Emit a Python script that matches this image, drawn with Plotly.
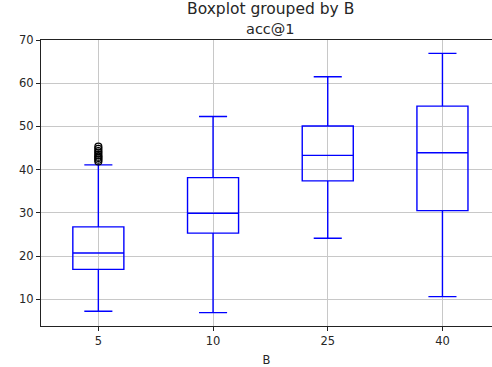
import plotly.graph_objects as go

# Groups of B and the five-number summaries of acc@1 per group
groups = ["5", "10", "25", "40"]
lower_whisker = [7.2, 6.9, 24.1, 10.6]
q1 = [16.9, 25.3, 37.4, 30.5]
median = [20.7, 29.9, 43.3, 43.9]
q3 = [26.75, 38.15, 50.1, 54.7]
upper_whisker = [41.1, 52.3, 61.5, 66.9]

# Flier points beyond the upper whisker of the B=5 group
outlier_group = ["5"] * 9
outlier_values = [41.9, 42.3, 42.7, 43.0, 43.4, 43.9, 44.3, 44.8, 45.3]

ticks_y = [10, 20, 30, 40, 50, 60, 70]

FONT = "DejaVu Sans"
BLUE = "#0000ff"
GRID = "#c8c8c8"
AXIS = "#222222"
TEXT = "#262626"

W, H = 492, 367
ML, MT, MB = 41, 40, 41

fig = go.Figure()

fig.add_trace(go.Box(
    x=groups,
    q1=q1,
    median=median,
    q3=q3,
    lowerfence=lower_whisker,
    upperfence=upper_whisker,
    boxpoints=False,
    width=0.445,
    whiskerwidth=0.55,
    line=dict(color=BLUE, width=1.4),
    fillcolor="rgba(0,0,0,0)",
    showlegend=False,
    hoverinfo="skip",
))

fig.add_trace(go.Scatter(
    x=outlier_group,
    y=outlier_values,
    mode="markers",
    marker=dict(symbol="circle-open", size=7, color="black", line=dict(width=1.2, color="black")),
    showlegend=False,
    hoverinfo="skip",
))

plot_w = W - ML
plot_h = H - MT - MB


def paper_xy(px, py):
    """Convert figure pixel coordinates to paper coordinates."""
    return (px - ML) / plot_w, (H - MB - py) / plot_h


sx, sy = paper_xy(270, 20)
tx, ty = paper_xy(270, 39)

fig.update_layout(
    width=W,
    height=H,
    margin=dict(l=ML, r=0, t=MT, b=MB),
    paper_bgcolor="white",
    plot_bgcolor="white",
    font=dict(family=FONT, size=11, color=TEXT),
    xaxis=dict(
        type="category",
        categoryorder="array",
        categoryarray=groups,
        range=[-0.5, 3.432],
        showgrid=True,
        gridcolor=GRID,
        gridwidth=1,
        showline=True,
        mirror=True,
        linecolor=AXIS,
        linewidth=1,
        ticks="outside",
        ticklen=4,
        tickcolor=AXIS,
        tickfont=dict(size=11.5, family=FONT, color=TEXT),
        title=dict(text="B", font=dict(size=11.5, family=FONT, color=TEXT), standoff=9),
        zeroline=False,
    ),
    yaxis=dict(
        range=[3.8, 70],
        tickvals=ticks_y,
        showgrid=True,
        gridcolor=GRID,
        gridwidth=1,
        showline=True,
        mirror=False,
        linecolor=AXIS,
        linewidth=1,
        ticks="outside",
        ticklen=4,
        tickcolor=AXIS,
        tickfont=dict(size=11.5, family=FONT, color=TEXT),
        zeroline=False,
    ),
    annotations=[
        dict(text="Boxplot grouped by B", x=sx, xref="paper", y=sy, yref="paper",
             xanchor="center", yanchor="bottom", showarrow=False,
             font=dict(size=15.5, family=FONT, color=TEXT)),
        dict(text="acc@1", x=tx, xref="paper", y=ty, yref="paper",
             xanchor="center", yanchor="bottom", showarrow=False,
             font=dict(size=14.5, family=FONT, color=TEXT)),
    ],
)

fig.write_html("out.html")
